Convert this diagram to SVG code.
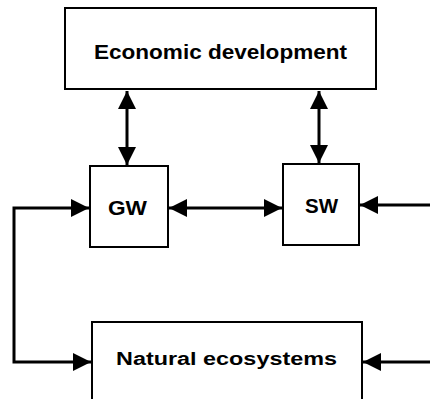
<svg xmlns="http://www.w3.org/2000/svg" width="430" height="399" viewBox="0 0 430 399">
  <style>
    .box { fill: #fff; stroke: #000; stroke-width: 2; }
    .lbl { font-family: "Liberation Sans", Arial, sans-serif; font-weight: bold; fill: #000; }
    .wire { fill: none; stroke: #000; stroke-width: 3; }
  </style>
  <defs>
    <marker id="head" markerUnits="userSpaceOnUse" markerWidth="18" markerHeight="20" viewBox="0 0 18 20" refX="18" refY="10" orient="auto-start-reverse">
      <path d="M0,1 L18,10 L0,19 Z" fill="#000"/>
    </marker>
  </defs>

  <rect width="430" height="399" fill="#fff"/>

  <g id="connectors">
    <!-- economic development <-> GW -->
    <line class="wire" x1="127" y1="91" x2="127" y2="165" marker-start="url(#head)" marker-end="url(#head)"/>
    <!-- economic development <-> SW -->
    <line class="wire" x1="319" y1="91" x2="319" y2="163" marker-start="url(#head)" marker-end="url(#head)"/>
    <!-- GW <-> SW -->
    <line class="wire" x1="169" y1="208" x2="282" y2="208" marker-start="url(#head)" marker-end="url(#head)"/>
    <!-- external input to SW -->
    <line class="wire" x1="430" y1="205" x2="360" y2="205" marker-end="url(#head)"/>
    <!-- loop: GW <-> natural ecosystems -->
    <path class="wire" d="M89,208 H14 V362 H91" marker-start="url(#head)" marker-end="url(#head)"/>
    <!-- external input to natural ecosystems -->
    <line class="wire" x1="430" y1="362" x2="363" y2="362" marker-end="url(#head)"/>
  </g>

  <g id="economic-development">
    <rect class="box" x="65" y="8" width="311" height="81"/>
    <text class="lbl" x="94" y="59" font-size="21" textLength="253" lengthAdjust="spacingAndGlyphs">Economic development</text>
  </g>

  <g id="gw">
    <rect class="box" x="90" y="166" width="78" height="81"/>
    <text class="lbl" x="108" y="215" font-size="21" textLength="39" lengthAdjust="spacingAndGlyphs">GW</text>
  </g>

  <g id="sw">
    <rect class="box" x="283" y="164" width="76" height="81"/>
    <text class="lbl" x="305" y="213" font-size="21" textLength="33" lengthAdjust="spacingAndGlyphs">SW</text>
  </g>

  <g id="natural-ecosystems">
    <rect class="box" x="92" y="322" width="270" height="90"/>
    <text class="lbl" x="116" y="365" font-size="18" textLength="221" lengthAdjust="spacingAndGlyphs">Natural ecosystems</text>
  </g>
</svg>
